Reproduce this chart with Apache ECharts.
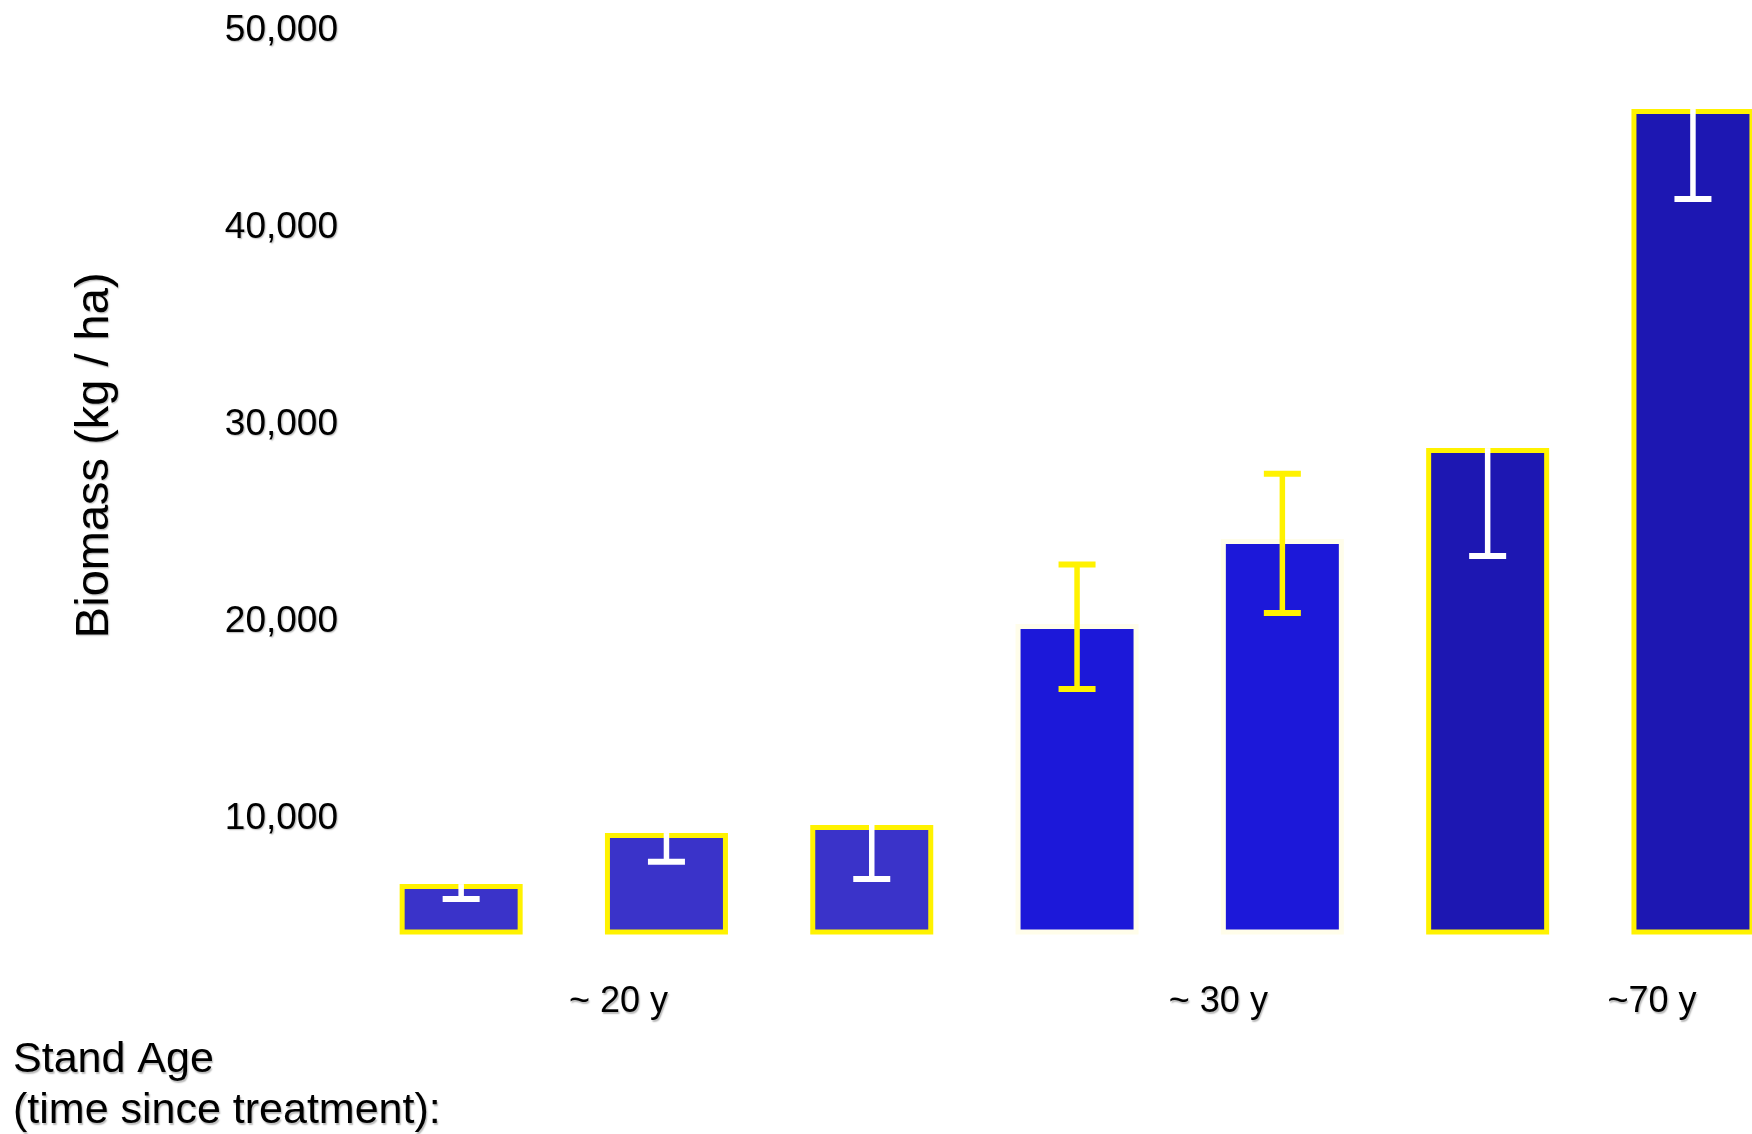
<!DOCTYPE html>
<html><head><meta charset="utf-8">
<script src="https://cdn.jsdelivr.net/npm/echarts@6/dist/echarts.min.js"></script>
<style>html,body{margin:0;padding:0;background:#fff}#c{width:1752px;height:1134px}</style>
</head><body><div id="c"></div>
<script>
// ---- data ----
const categories = ['1', '2', '3', '4', '5', '6', '7'];
const ageLabels = ['', '~ 20 y', '', '', '~ 30 y', '', '~70 y'];
const biomass = [6700, 9290, 9700, 19890, 24210, 28820, 46020];
const errLower = [5940, 7840, 6960, 16600, 20450, 23340, 41460];
const errUpper = [null, null, null, 22910, 27520, null, null];
const yTicks = [10000, 20000, 30000, 40000, 50000];
const yName = 'Biomass (kg / ha)';
const xNote = 'Stand Age\n(time since treatment):';

// ---- styles ----
const YELLOW = '#fff200';
const barFills = ['#3a33c9', '#3a33c9', '#3a33c9', '#1c18d9', '#1c18d9', '#1d17b2', '#1d17b2'];
const barOutlined = [true, true, true, false, false, true, true];
const labelShift = { '~ 20 y': 96, '~ 30 y': 128, '~70 y': 82 };
const shadow = { textShadowColor: 'rgba(0,0,0,0.28)', textShadowBlur: 1.5, textShadowOffsetX: 1.2, textShadowOffsetY: 1.2 };
const FONT = '"Liberation Sans", Arial, sans-serif';

const chart = echarts.init(document.getElementById('c'), null, { renderer: 'canvas' });

const barData = biomass.map((v, i) => ({
  value: v,
  itemStyle: {
    color: barFills[i],
    borderColor: barOutlined[i] ? YELLOW : '#fffdea',
    borderWidth: 5
  }
}));

const errData = categories.map((c, i) => [
  i, errLower[i], errUpper[i] == null ? biomass[i] : errUpper[i], errUpper[i] == null ? 0 : 1
]);

const rich = {};
Object.keys(labelShift).forEach((k, j) => {
  rich['l' + j] = { fontSize: 36, fontFamily: FONT, color: '#000', padding: [0, labelShift[k], 0, 0], ...shadow };
});

chart.setOption({
  animation: false,
  backgroundColor: '#fff',
  title: {
    text: xNote,
    left: 13, top: 1035, padding: 0,
    textStyle: { fontSize: 43, lineHeight: 51, fontWeight: 'normal', color: '#000', fontFamily: FONT, ...shadow }
  },
  grid: { left: 358.5, right: -43.6, top: 30.6, bottom: 202, containLabel: false, outerBoundsMode: 'none' },
  xAxis: {
    type: 'category',
    data: categories,
    axisLine: { show: false },
    axisTick: { show: false },
    axisLabel: {
      interval: 0,
      margin: 52.5,
      formatter: (v, idx) => {
        const t = ageLabels[idx];
        if (!t) return '';
        const j = Object.keys(labelShift).indexOf(t);
        return '{l' + j + '|' + t + '}';
      },
      rich: rich
    }
  },
  yAxis: {
    type: 'value',
    min: 4270,
    max: 50000,
    name: yName,
    nameLocation: 'middle',
    nameGap: 240,
    nameRotate: 90,
    nameTextStyle: { fontSize: 47, color: '#000', fontFamily: FONT, padding: [0, 0, 0, 52], ...shadow },
    axisLine: { show: false },
    axisTick: { show: false },
    splitLine: { show: false },
    axisLabel: {
      customValues: yTicks,
      margin: 20.5,
      fontSize: 37,
      color: '#000',
      fontFamily: FONT,
      formatter: v => v.toLocaleString('en-US'),
      ...shadow
    }
  },
  series: [
    {
      type: 'bar',
      data: barData,
      barWidth: 123,
      z: 2
    },
    {
      type: 'custom',
      z: 10,
      data: errData,
      renderItem: (params, api) => {
        const i = api.value(0);
        const two = api.value(3) === 1;
        const pLow = api.coord([i, api.value(1)]);
        const pUp = api.coord([i, api.value(2)]);
        const cx = pLow[0];
        const yTop = pUp[1];
        const color = two ? YELLOW : '#ffffff';
        const children = [
          { type: 'rect', shape: { x: cx - 2.75, y: yTop, width: 5.5, height: pLow[1] - yTop }, style: { fill: color } },
          { type: 'rect', shape: { x: cx - 18.5, y: pLow[1] - 3, width: 37, height: 6 }, style: { fill: color } }
        ];
        if (two) {
          children.push({ type: 'rect', shape: { x: cx - 18.5, y: pUp[1] - 3, width: 37, height: 6 }, style: { fill: color } });
        }
        return { type: 'group', children: children };
      }
    }
  ]
});
</script>
</body></html>
